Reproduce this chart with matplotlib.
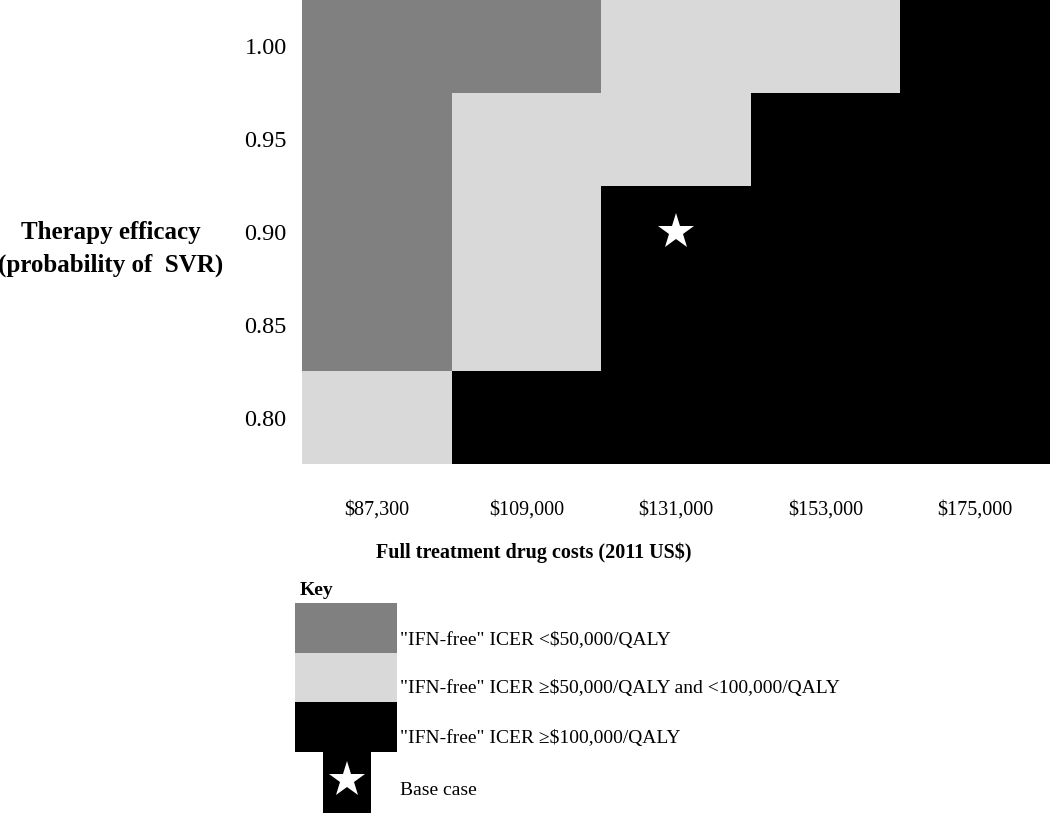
import numpy as np
import matplotlib
matplotlib.use("Agg")
import matplotlib.pyplot as plt
from matplotlib.colors import ListedColormap
from matplotlib.patches import Rectangle

# drug costs (columns) and SVR probability (rows, top to bottom)
costs = ["$87,300", "$109,000", "$131,000", "$153,000", "$175,000"]
efficacy = ["1.00", "0.95", "0.90", "0.85", "0.80"]

# 0 = ICER < 50k, 1 = 50k-100k, 2 = >= 100k
icer_class = [
    [0, 0, 1, 1, 2],
    [0, 1, 1, 2, 2],
    [0, 1, 2, 2, 2],
    [0, 1, 2, 2, 2],
    [1, 2, 2, 2, 2],
]
base_case = (2, 2)  # (column, row)

class_colors = ["#808080", "#d9d9d9", "#000000"]
key_labels = ['"IFN-free" ICER <$50,000/QALY',
              '"IFN-free" ICER \u2265$50,000/QALY and <100,000/QALY',
              '"IFN-free" ICER \u2265$100,000/QALY']

plt.rcParams['font.family'] = ['Liberation Serif', 'DejaVu Serif']

W, H = 1050, 813
fig = plt.figure(figsize=(W/100, H/100), dpi=100)


def fx(px):
    return px / W


def fy(py):
    return 1 - py / H


ax = fig.add_axes([fx(302), fy(464), fx(1050) - fx(302), fy(0) - fy(464)])
grid = np.array(icer_class)
ax.pcolormesh(np.arange(len(costs) + 1), np.arange(len(efficacy) + 1), grid,
              cmap=ListedColormap(class_colors), vmin=-0.5, vmax=2.5)
ax.set_xlim(0, len(costs))
ax.set_ylim(len(efficacy), 0)
ax.plot(base_case[0] + 0.5, base_case[1] + 0.5, marker='*', color='white',
        markersize=27, markeredgewidth=0)

ax.set_xticks(np.arange(len(costs)) + 0.5)
ax.set_xticklabels(costs, fontsize=14.5)
ax.set_yticks(np.arange(len(efficacy)) + 0.5)
ax.set_yticklabels(efficacy, fontsize=17.5)
ax.tick_params(length=0)
ax.tick_params(axis='x', pad=26)
ax.tick_params(axis='y', pad=11)
for s in ax.spines.values():
    s.set_visible(False)

fig.text(fx(534), fy(553), "Full treatment drug costs (2011 US$)",
         ha='center', va='center', fontsize=14.5, fontweight='bold')
fig.text(fx(111), fy(249), "Therapy efficacy\n(probability of  SVR)",
         ha='center', va='center', multialignment='center',
         fontsize=18, fontweight='bold', linespacing=1.5)

# key
fig.text(fx(300), fy(590), "Key", ha='left', va='center',
         fontsize=14, fontweight='bold')
key_top = [603, 653, 702]
key_mid = [640, 688, 738]
for c, lab, t, m in zip(class_colors, key_labels, key_top, key_mid):
    fig.add_artist(Rectangle((fx(295), fy(t + 50)), fx(102), 50 / H,
                             transform=fig.transFigure, color=c, lw=0))
    fig.text(fx(400), fy(m), lab, ha='left', va='center', fontsize=14)
fig.add_artist(Rectangle((fx(323), fy(813)), fx(48), 61 / H,
                         transform=fig.transFigure, color='black', lw=0))
fig.add_artist(plt.Line2D([fx(347)], [fy(780)], marker='*', color='white',
                          markersize=27, markeredgewidth=0,
                          transform=fig.transFigure))
fig.text(fx(400), fy(790), "Base case", ha='left', va='center', fontsize=14)

fig.savefig("out.png", dpi=100)
